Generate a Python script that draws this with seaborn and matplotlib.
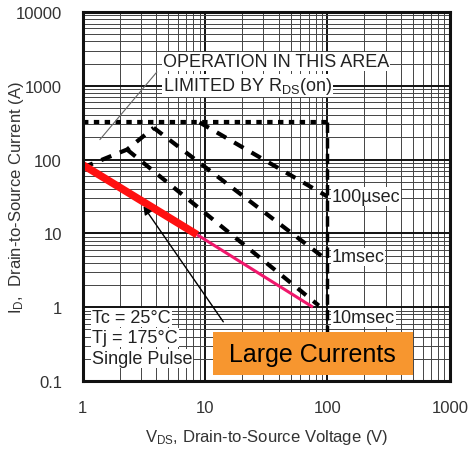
import numpy as np
import pandas as pd
import matplotlib
matplotlib.use("Agg")
import matplotlib.pyplot as plt
from matplotlib.patches import Rectangle
import seaborn as sns

# safe operating area
v_rise = [1, 2.3, 3.8]
i_rise = [78, 137, 270]
v_100us = [9, 100]
i_100us = [320, 31.6]
v_1ms = [3.8, 100]
i_1ms = [270, 4.3]
v_10ms = [2.3, 85]
i_10ms = [137, 1.05]
v_limit = [1, 100]
i_limit = [320, 320]
v_vert = [100, 100]
i_vert = [320, 0.3]
v_red = [1, 8.6]
i_red = [85, 9.6]
v_pink = [8.6, 76]
i_pink = [9.6, 1.0]

xticks = [1, 10, 100, 1000]
xtick_labels = ["1", "10", "100", "1000"]
yticks = [0.1, 1, 10, 100, 1000, 10000]
ytick_labels = ["0.1", "1", "10", "100", "1000", "10000"]

sns.set_style("white")
plt.rcParams["font.family"] = ["Liberation Sans", "DejaVu Sans"]
plt.rcParams["mathtext.fontset"] = "custom"
plt.rcParams["mathtext.rm"] = "Liberation Sans"
plt.rcParams["mathtext.it"] = "Liberation Sans"

fig = plt.figure(figsize=(4.73, 4.52), dpi=100)
ax = fig.add_axes([0.175, 0.155, 0.776, 0.816])
ax.set_xscale("log")
ax.set_yscale("log")
ax.set_xlim(1, 1000)
ax.set_ylim(0.1, 10000)

ax.grid(True, which="major", color="#111111", lw=1.4)
ax.grid(True, which="minor", color="#444444", lw=0.7)
ax.set_axisbelow(True)
for s in ax.spines.values():
    s.set_linewidth(2.2)
    s.set_color("#111111")

dash = (2.6, 2.2)
kw = dict(ax=ax, estimator=None, sort=False, legend=False)
sns.lineplot(x=v_limit, y=i_limit, color="black", lw=3, **kw)
ax.lines[-1].set_dashes((1.3, 1.3))
sns.lineplot(x=v_vert, y=i_vert, color="black", lw=2.5, **kw)
ax.lines[-1].set_dashes((3, 1.5))
for vx, iy in [(v_rise, i_rise), (v_100us, i_100us), (v_1ms, i_1ms), (v_10ms, i_10ms)]:
    sns.lineplot(x=vx, y=iy, color="black", lw=3, **kw)
    ax.lines[-1].set_dashes(dash)

sns.lineplot(x=v_pink, y=i_pink, color="#f0186c", lw=2.2, **kw)
sns.lineplot(x=v_red, y=i_red, color="#ff1010", lw=5.5, **kw)
for ln in ax.lines:
    ln.set_solid_capstyle("butt")

txt = dict(color="#222222", fontsize=13,
           bbox=dict(boxstyle="square,pad=0.05", fc="white", ec="none"))
ax.text(4.51, 2120, "OPERATION IN THIS AREA", va="center", ha="left", **txt)
ax.text(4.51, 1000, r"LIMITED BY R$_{\rm DS}$(on)", va="center", ha="left", **txt)
ax.plot([4.03, 1.38], [1540, 187], color="#666666", lw=0.8)

ax.text(108, 31.6, "100µsec", va="center", ha="left", **txt)
ax.text(108, 4.8, "1msec", va="center", ha="left", **txt)
ax.text(108, 0.73, "10msec", va="center", ha="left", **txt)
ax.text(1.19, 0.73, "Tc = 25°C", va="center", ha="left", **txt)
ax.text(1.19, 0.39, "Tj = 175°C", va="center", ha="left", **txt)
ax.text(1.19, 0.2, "Single Pulse", va="center", ha="left", **txt)

ax.annotate("", xy=(3.04, 25), xytext=(14.5, 0.59),
            arrowprops=dict(arrowstyle="-|>", color="black", lw=1, mutation_scale=12))

ax.add_patch(Rectangle((0.354, 0.016), 0.545, 0.117, transform=ax.transAxes,
                       facecolor="#f7962f", edgecolor="none", zorder=5))
ax.text(0.625, 0.074, "Large Currents", transform=ax.transAxes, ha="center",
        va="center", fontsize=18, color="black", zorder=6)

ax.set_xticks(xticks)
ax.set_xticklabels(xtick_labels)
ax.set_yticks(yticks)
ax.set_yticklabels(ytick_labels)
ax.tick_params(which="both", length=0, labelsize=12, labelcolor="#333333")
ax.tick_params(axis="x", pad=14)
ax.tick_params(axis="y", pad=15)
ax.set_xlabel(r"V$_{\rm DS}$, Drain-to-Source Voltage (V)", fontsize=12,
              color="#333333")
ax.set_ylabel(r"I$_{\rm D}$,  Drain-to-Source Current (A)", fontsize=12,
              color="#333333")
ax.xaxis.set_label_coords(0.5, -0.125)
ax.yaxis.set_label_coords(-0.155, 0.5)

fig.savefig("out.png", dpi=100)
